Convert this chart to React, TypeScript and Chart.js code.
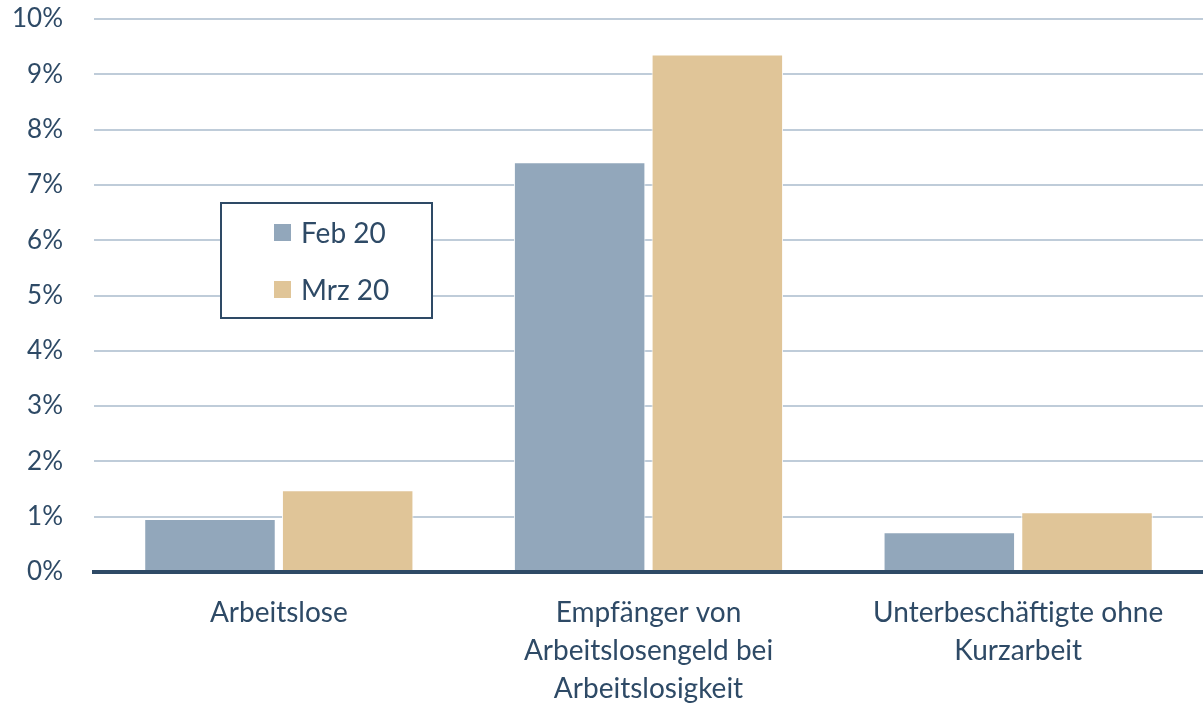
import React, { useEffect, useRef } from "react";
import { Chart, registerables } from "chart.js";

Chart.register(...registerables);

const categories: string[][] = [
  ["Arbeitslose"],
  ["Empfänger von", "Arbeitslosengeld bei", "Arbeitslosigkeit"],
  ["Unterbeschäftigte ohne", "Kurzarbeit"],
];
const seriesLabels = ["Feb 20", "Mrz 20"];
const feb20 = [0.96, 7.41, 0.72];
const mrz20 = [1.48, 9.36, 1.08];
const yTicks = [0, 1, 2, 3, 4, 5, 6, 7, 8, 9, 10];

const TEXT = "#2E4A66";
const FONT = "Lato";

const legendPlugin = {
  id: "boxLegend",
  afterDraw(chart: any) {
    const ctx = chart.ctx;
    const x0 = 221, y0 = 203, w = 211, h = 115;
    ctx.save();
    ctx.fillStyle = "#ffffff";
    ctx.fillRect(x0, y0, w, h);
    ctx.strokeStyle = TEXT;
    ctx.lineWidth = 2;
    ctx.strokeRect(x0, y0, w, h);
    const rows = [233, 290];
    chart.data.datasets.forEach((ds: any, i: number) => {
      ctx.fillStyle = ds.backgroundColor;
      ctx.fillRect(274, rows[i] - 9, 17, 17);
      ctx.fillStyle = TEXT;
      ctx.font = `28px ${FONT}`;
      ctx.textBaseline = "middle";
      ctx.textAlign = "left";
      ctx.fillText(ds.label, 301, rows[i] + 1);
    });
    ctx.restore();
  },
};

export default function App() {
  const ref = useRef<HTMLCanvasElement>(null);
  useEffect(() => {
    if (!ref.current) return;
    const chart = new Chart(ref.current, {
      type: "bar",
      data: {
        labels: categories,
        datasets: [
          {
            label: seriesLabels[0],
            data: feb20,
            backgroundColor: "#92A7BB",
            borderColor: "#ffffff",
            borderWidth: 1,
            categoryPercentage: 0.745,
            barPercentage: 0.955,
          },
          {
            label: seriesLabels[1],
            data: mrz20,
            backgroundColor: "#E0C598",
            borderColor: "#ffffff",
            borderWidth: 1,
            categoryPercentage: 0.745,
            barPercentage: 0.955,
          },
        ],
      },
      plugins: [legendPlugin],
      options: {
        animation: false,
        responsive: false,
        layout: { padding: { top: 19, right: 0, left: 0, bottom: 0 } },
        plugins: { legend: { display: false }, tooltip: { enabled: false } },
        scales: {
          x: {
            grid: { display: false, drawTicks: false },
            border: { display: true, color: TEXT, width: 4, z: 2 },
            ticks: {
              color: TEXT,
              font: { family: FONT, size: 28, lineHeight: 1.36 },
              padding: 22,
              maxRotation: 0,
              autoSkip: false,
            },
            afterFit: (s: any) => {
              s.height = 138;
              s.paddingLeft = 0;
              s.paddingRight = 0;
            },
          },
          y: {
            min: 0,
            max: 10,
            afterBuildTicks: (s: any) => {
              s.ticks = yTicks.map((v) => ({ value: v }));
            },
            grid: { color: "#BFCCD9", lineWidth: 2, drawTicks: false },
            border: { display: false },
            ticks: {
              color: TEXT,
              font: { family: FONT, size: 26 },
              padding: 31,
              callback: (v: any) => `${v}%`,
            },
            afterFit: (s: any) => {
              s.width = 94;
              s.paddingTop = 0;
              s.paddingBottom = 0;
            },
          },
        },
      },
    });
    return () => chart.destroy();
  }, []);
  return (
    <div style={{ position: "fixed", left: 0, top: 0, width: 1203, height: 710, background: "#fff" }}>
      <canvas ref={ref} width={1203} height={710} style={{ display: "block" }} />
    </div>
  );
}
